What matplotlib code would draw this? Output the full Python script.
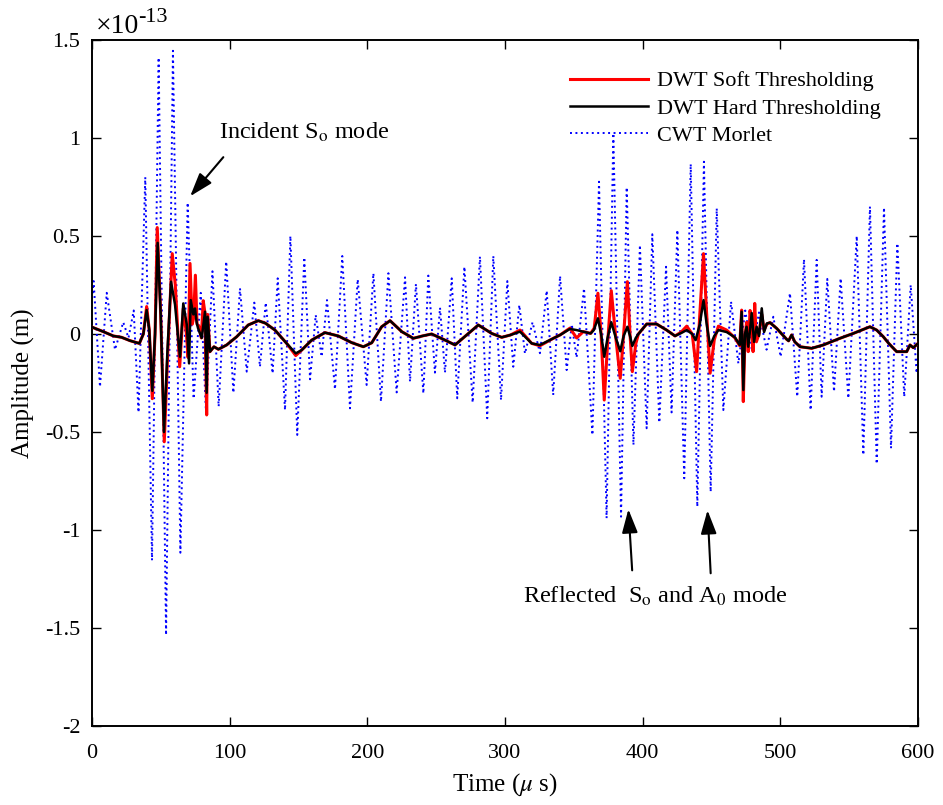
import numpy as np
import matplotlib
matplotlib.use("Agg")
import matplotlib.pyplot as plt
from matplotlib.ticker import FuncFormatter

plt.rcParams['font.family'] = ['Liberation Serif', 'DejaVu Serif']
plt.rcParams['mathtext.fontset'] = 'stix'

# time axis in microseconds, amplitudes in units of 1e-13 m
# CWT Morlet: read peak / trough positions of the dotted trace
cwt_t = [0, 1.2, 5.8, 10.7, 16.7, 22.7, 26.5, 30.3, 33.8, 38.7, 43.6, 48.4, 53.8, 58.8, 64.2,
         69.5, 73.8, 79.0, 82.8, 87.5, 92.0, 97.5, 102.7, 107.5, 112.4, 117.9, 122.0, 126.2,
         131.2, 134.9, 140.2, 144.1, 149.1, 154.2, 158.4, 162.5, 166.8, 170.7, 176.5, 181.8,
         187.4, 193.0, 199.5, 204.4, 209.9, 215.3, 221.3, 227.4, 231.0, 235.3, 240.7, 244.3,
         249.1, 252.8, 256.4, 261.3, 265.3, 270.5, 276.5, 281.8, 287.1, 291.5, 297.1, 301.7,
         306.0, 310.4, 314.5, 320.0, 325.4, 330.3, 335.0, 340.0, 344.8, 348.5, 352.0, 357.4,
         363.5, 368.3, 373.8, 378.7, 384.3, 388.4, 393.3, 398.0, 402.9, 407.0, 412.1, 417.0,
         421.0, 425.2, 430.2, 434.9, 439.7, 444.5, 449.4, 453.8, 458.6, 464.2, 469.5, 474.5,
         479.5, 484.5, 490.0, 494.9, 500.2, 507.0, 512.3, 517.2, 522.0, 526.4, 530.0, 534.1,
         539.0, 543.8, 549.4, 555.5, 560.3, 565.1, 570.0, 575.3, 580.4, 585.0, 590.0, 594.7,
         599.0, 600.0]
cwt_a = [0.18, 0.27, -0.27, 0.21, -0.08, 0.06, -0.02, 0.12, -0.40, 0.80, -1.155, 1.41, -1.536,
         1.445, -1.116, 0.67, -0.33, 0.21, -0.40, 0.32, -0.37, 0.37, -0.30, 0.233, -0.192, 0.16,
         -0.167, 0.16, -0.201, 0.284, -0.388, 0.50, -0.515, 0.391, -0.231, 0.097, -0.116, 0.173,
         -0.282, 0.398, -0.379, 0.279, -0.260, 0.31, -0.345, 0.31, -0.298, 0.289, -0.243, 0.255,
         -0.303, 0.298, -0.197, 0.134, -0.197, 0.284, -0.328, 0.343, -0.35, 0.395, -0.43, 0.398,
         -0.337, 0.27, -0.167, 0.148, -0.10, 0.06, -0.098, 0.221, -0.311, 0.296, -0.184, 0.05,
         -0.12, 0.233, -0.515, 0.777, -0.94, 1.024, -0.932, 0.748, -0.566, 0.454, -0.481, 0.509,
         -0.452, 0.343, -0.40, 0.531, -0.736, 0.867, -0.881, 0.879, -0.805, 0.641, -0.388, 0.165,
         -0.15, 0.12, -0.09, 0.11, -0.08, 0.088, -0.116, 0.208, -0.32, 0.381, -0.388, 0.378,
         -0.32, 0.281, -0.294, 0.284, -0.328, 0.50, -0.617, 0.65, -0.663, 0.645, -0.583, 0.463,
         -0.32, 0.25, -0.20, -0.10]

# DWT hard thresholding
hard_t = [0, 8.2, 15.5, 21.5, 27.6, 34.4, 37.3, 39.7, 41.6, 43.8, 45.8, 47.7, 49.9, 52.3, 54.7,
          57.4, 60.3, 63.9, 66.3, 68.8, 70.5, 71.7, 73.6, 74.8, 76.0, 77.0, 79.7, 82.1, 83.3,
          84.0, 85.7, 88.6, 91.8, 97.8, 105.1, 113.5, 120.8, 126.0, 132.9, 141.4, 148.0, 152.3,
          159.6, 169.2, 178.9, 188.6, 197.1, 203.2, 210.4, 216.5, 225.0, 233.4, 240.0, 246.7,
          255.2, 263.7, 272.2, 280.6, 290.3, 297.6, 304.0, 310.9, 319.4, 325.4, 335.1, 340.0,
          347.2, 352.0, 356.9, 362.2, 364.5, 367.5, 369.8, 372.1, 374.5, 377.2, 380.5, 383.7,
          386.2, 388.9, 390.8, 392.5, 395.0, 396.9, 402.9, 410.1, 417.4, 423.5, 428.0, 432.0,
          436.0, 438.5, 441.5, 444.2, 446.5, 449.0, 452.0, 455.0, 461.0, 467.0, 470.5, 471.9,
          473.1, 474.3, 475.5, 476.7, 478.0, 479.2, 480.9, 482.8, 484.5, 486.5, 488.2, 490.2,
          492.5, 497.3, 504.6, 506.0, 508.2, 510.5, 514.3, 522.8, 531.2, 543.3, 553.0, 565.1,
          570.0, 574.8, 579.0, 584.5, 591.8, 594.2, 596.6, 600.0]
hard_a = [0.035, 0.012, -0.01, -0.017, -0.034, -0.048, 0.0, 0.122, 0.02, -0.29, 0.0, 0.465, 0.1,
          -0.50, -0.1, 0.267, 0.15, -0.116, 0.156, 0.05, -0.15, 0.173, 0.10, 0.13, 0.06, 0.03,
          -0.02, 0.114, -0.30, 0.088, -0.09, -0.065, -0.078, -0.056, -0.014, 0.046, 0.068, 0.055,
          0.02, -0.048, -0.099, -0.082, -0.031, 0.007, -0.01, -0.044, -0.065, -0.045, 0.037,
          0.068, 0.012, -0.022, -0.01, 0.0, -0.027, -0.056, -0.005, 0.046, 0.003, -0.017, -0.005,
          0.012, -0.048, -0.056, -0.022, -0.005, 0.026, 0.02, 0.012, 0.003, 0.02, 0.08, 0.0,
          -0.116, -0.02, 0.06, -0.02, -0.088, -0.01, 0.037, -0.01, -0.061, -0.02, 0.0, 0.051,
          0.051, 0.02, -0.01, 0.005, 0.02, 0.0, -0.031, 0.05, 0.173, 0.05, -0.061, -0.01, 0.02,
          0.01, -0.017, -0.056, 0.114, -0.286, 0.0, 0.037, -0.065, 0.02, 0.107, -0.04, 0.037,
          -0.01, 0.131, 0.01, 0.054, 0.058, 0.029, -0.027, -0.035, -0.005, -0.04, -0.065,
          -0.073, -0.056, -0.022, 0.003, 0.037, 0.02, -0.014, -0.05, -0.09, -0.09, -0.056,
          -0.07, -0.048]

# DWT soft thresholding
soft_t = [0, 8.2, 15.5, 21.5, 27.6, 34.4, 37.3, 39.7, 41.6, 43.8, 45.8, 47.4, 49.9, 52.5, 55.0,
          58.3, 60.5, 63.7, 66.3, 68.6, 69.8, 71.2, 72.8, 73.8, 75.1, 76.3, 77.6, 79.4, 80.8,
          82.0, 83.3, 84.0, 85.7, 88.6, 91.8, 97.8, 105.1, 113.5, 120.8, 126.0, 132.9, 141.4,
          148.0, 152.3, 159.6, 169.2, 178.9, 188.6, 197.1, 203.2, 210.4, 216.5, 225.0, 233.4,
          240.0, 246.7, 255.2, 263.7, 272.2, 280.6, 290.3, 297.6, 304.0, 310.9, 319.4, 325.4,
          335.1, 340.0, 347.2, 352.0, 356.9, 362.2, 364.8, 367.5, 369.8, 372.1, 374.5, 377.2,
          380.5, 383.7, 386.2, 388.9, 390.8, 392.5, 395.0, 396.9, 402.9, 410.1, 417.4, 423.5,
          428.0, 432.0, 436.0, 439.2, 441.5, 444.2, 446.5, 449.0, 452.0, 455.0, 461.0, 467.0,
          470.5, 471.9, 473.1, 474.3, 475.5, 476.7, 478.0, 479.2, 480.2, 481.4, 482.6, 484.5,
          486.5, 488.2, 490.2, 492.5, 497.3, 504.6, 506.0, 508.2, 510.5, 514.3, 522.8, 531.2,
          543.3, 553.0, 565.1, 570.0, 574.8, 579.0, 584.5, 591.8, 594.2, 596.6, 600.0]
soft_a = [0.035, 0.012, -0.01, -0.017, -0.034, -0.048, 0.0, 0.14, 0.02, -0.33, 0.0, 0.543, 0.1,
          -0.55, -0.1, 0.41, 0.25, -0.167, 0.13, 0.0, -0.12, 0.36, 0.05, 0.08, 0.30, 0.05, 0.04,
          -0.02, 0.17, 0.11, -0.413, 0.1, -0.09, -0.065, -0.078, -0.056, -0.014, 0.046, 0.068,
          0.055, 0.02, -0.048, -0.11, -0.082, -0.031, 0.007, -0.01, -0.044, -0.065, -0.045,
          0.037, 0.068, 0.012, -0.022, -0.01, 0.0, -0.027, -0.056, -0.005, 0.046, 0.003, -0.017,
          -0.005, 0.02, -0.048, -0.06, -0.022, -0.005, 0.03, -0.02, 0.012, 0.003, 0.03, 0.208,
          0.0, -0.337, -0.05, 0.221, -0.02, -0.226, 0.0, 0.267, 0.0, -0.192, -0.05, 0.0, 0.051,
          0.051, 0.02, -0.01, 0.01, 0.04, 0.0, -0.192, 0.1, 0.41, 0.1, -0.20, -0.03, 0.04, 0.02,
          -0.02, -0.06, 0.122, -0.345, -0.02, 0.06, -0.09, 0.12, 0.05, -0.09, 0.156, -0.04, 0.0,
          0.10, 0.02, 0.05, 0.058, 0.029, -0.027, -0.035, -0.005, -0.04, -0.065, -0.073, -0.056,
          -0.022, 0.003, 0.037, 0.02, -0.014, -0.05, -0.09, -0.09, -0.056, -0.07, -0.048]

x_ticks = [0, 100, 200, 300, 400, 500, 600]
y_ticks = [-2, -1.5, -1, -0.5, 0, 0.5, 1, 1.5]

fig = plt.figure(figsize=(9.43, 8.05), dpi=100)
ax = fig.add_axes([92 / 943, 79 / 805, 826 / 943, 686 / 805])

l_cwt, = ax.plot(cwt_t, cwt_a, color=(0, 0, 1), lw=1.4, linestyle=(0, (1, 1.8)), zorder=2)
l_soft, = ax.plot(soft_t, soft_a, color=(1, 0, 0), lw=2.2, zorder=3)
l_hard, = ax.plot(hard_t, hard_a, color='black', lw=1.8, zorder=4)

ax.set_xlim(0, 600)
ax.set_ylim(-2, 1.5)
ax.set_xticks(x_ticks)
ax.set_yticks(y_ticks)
ax.yaxis.set_major_formatter(FuncFormatter(lambda v, p: ('%g' % v)))
ax.tick_params(direction='in', length=6.5, width=1.0, labelsize=16, top=True, right=True)
ax.tick_params(axis='x', pad=13)
ax.tick_params(axis='y', pad=8.5)
for s in ax.spines.values():
    s.set_linewidth(1.4)

ax.set_xlabel('Time ($\\mu$ s)', fontsize=18, labelpad=6)
ax.set_ylabel('Amplitude (m)', fontsize=18, labelpad=7)

# MATLAB-style exponent above the axes
ax.text(0.004, 1.010, '\u00d710', transform=ax.transAxes, fontsize=20, va='baseline')
ax.text(0.0557, 1.026, '-13', transform=ax.transAxes, fontsize=16, va='baseline')

ax.legend([l_soft, l_hard, l_cwt],
          ['DWT Soft Thresholding', 'DWT Hard Thresholding', 'CWT Morlet'],
          loc='upper left', bbox_to_anchor=(0.5787, 0.955), frameon=False, fontsize=16,
          handlelength=3.5, handletextpad=0.4, labelspacing=0.3, borderpad=0,
          borderaxespad=0)

arrow = dict(arrowstyle='-|>,head_length=0.9,head_width=0.3', color='black', lw=1.5,
             mutation_scale=16)
ax.annotate('', xy=(70, 0.692), xytext=(96.7, 0.913), arrowprops=arrow)
ax.text(92.2, 1.03, 'Incident S$_{\\mathrm{o}}$ mode', fontsize=17.5, va='center', ha='left')

ax.annotate('', xy=(389.5, -0.88), xytext=(392.5, -1.22), arrowprops=arrow)
ax.annotate('', xy=(447, -0.885), xytext=(449.5, -1.235), arrowprops=arrow)
ax.text(313, -1.337, 'Reflected  S$_{\\mathrm{o}}$ and A$_{0}$ mode', fontsize=17.5,
        va='center', ha='left')

fig.savefig('out.png', dpi=100)
